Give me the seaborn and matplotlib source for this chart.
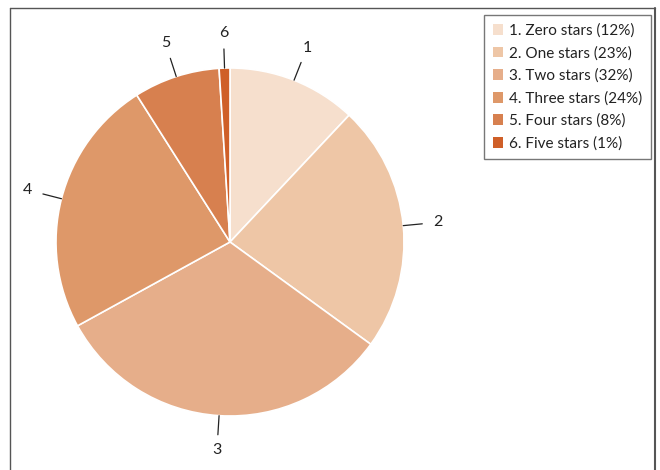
import numpy as np
import matplotlib
matplotlib.use("Agg")
import matplotlib.pyplot as plt
import seaborn as sns
from matplotlib.lines import Line2D

labels = ["1", "2", "3", "4", "5", "6"]
legend_names = ["1. Zero stars (12%)", "2. One stars (23%)", "3. Two stars (32%)",
                "4. Three stars (24%)", "5. Four stars (8%)", "6. Five stars (1%)"]
values = [12, 23, 32, 24, 8, 1]
colors = ["#F6DFCD", "#EEC6A6", "#E6AE8A", "#DE9869", "#D7804F", "#CF5F28"]

sns.set_theme(style="white")
plt.rcParams["font.family"] = ["Lato", "DejaVu Sans"]

W, H = 660, 470
fig = plt.figure(figsize=(W / 100, H / 100), dpi=100)
ax = fig.add_axes([0, 0, 1, 1])

cx, cy, R = 230, H - 242, 174
wedges, _ = ax.pie(values, colors=colors, startangle=90, counterclock=False,
                   center=(cx, cy), radius=R,
                   wedgeprops=dict(edgecolor="white", linewidth=1.2))
ax.set_xlim(0, W)
ax.set_ylim(0, H)
ax.set_aspect("equal")
ax.axis("off")

for w, lab in zip(wedges, labels):
    ang = np.deg2rad((w.theta1 + w.theta2) / 2)
    c, s = np.cos(ang), np.sin(ang)
    ax.plot([cx + R * 1.0 * c, cx + R * 1.11 * c], [cy + R * 1.0 * s, cy + R * 1.11 * s],
            color="#222222", lw=0.9)
    ax.text(cx + R * 1.2 * c, cy + R * 1.2 * s, lab, ha="center", va="center",
            fontsize=11.5, color="#222222")

# figure frame
fc = "#555555"
fig.add_artist(Line2D([10 / W, 10 / W], [0, 1 - 8 / H], color=fc, lw=1, transform=fig.transFigure))
fig.add_artist(Line2D([10 / W, 655 / W], [1 - 8 / H, 1 - 8 / H], color=fc, lw=1, transform=fig.transFigure))
fig.add_artist(Line2D([655 / W, 655 / W], [0, 1 - 8 / H], color=fc, lw=1.5, transform=fig.transFigure))

handles = [plt.Rectangle((0, 0), 1, 1, facecolor=c, edgecolor="none") for c in colors]
leg = fig.legend(handles, legend_names, loc="upper right",
                 bbox_to_anchor=(651 / W, 1 - 15 / H), frameon=True, fancybox=False,
                 fontsize=11, handlelength=0.7, handleheight=0.7, handletextpad=0.4,
                 labelspacing=0.54, borderpad=0.55, borderaxespad=0,
                 edgecolor="#555555")
leg.get_frame().set_linewidth(1.0)
for t in leg.get_texts():
    t.set_color("#222222")

fig.savefig("out.png", dpi=100)
